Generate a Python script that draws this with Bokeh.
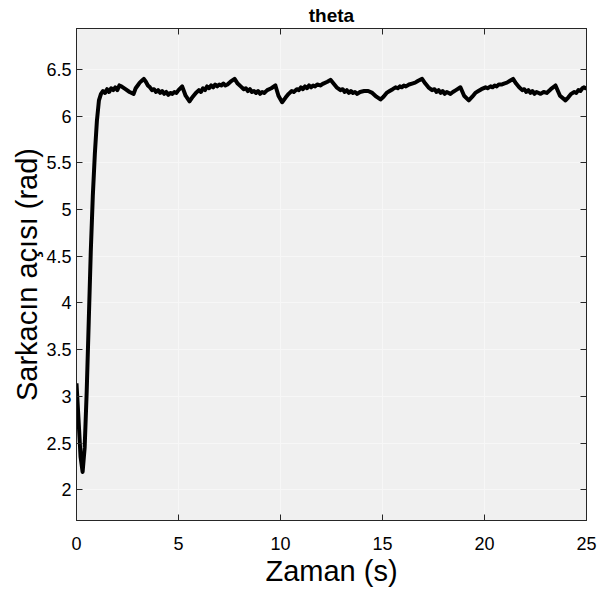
from bokeh.plotting import figure
from bokeh.models import Range1d, LinearAxis, FixedTicker, ColumnDataSource
from bokeh.embed import file_html
from bokeh.resources import INLINE

# time (s)
t = [0.0, 0.1, 0.2, 0.3, 0.4, 0.5, 0.6, 0.7, 0.8, 0.9, 1.0,
     1.1, 1.2, 1.3, 1.4, 1.5, 1.6, 1.7, 1.8, 1.9, 2.0, 2.1, 2.2, 2.4, 2.6, 2.8, 2.9, 3.0,
     3.1, 3.2, 3.3, 3.4, 3.5, 3.6, 3.7, 3.8, 3.9, 4.0, 4.1, 4.2, 4.3, 4.4, 4.5, 4.6, 4.7,
     4.8, 4.9, 5.0, 5.18, 5.35, 5.54,
     5.7, 5.85, 6.0, 6.1, 6.2, 6.3, 6.4, 6.5, 6.6, 6.7, 6.8, 6.9, 7.0, 7.1, 7.2, 7.3, 7.4,
     7.55, 7.75, 7.9, 8.05, 8.2, 8.3, 8.4, 8.5, 8.6, 8.7, 8.8, 8.9, 9.0, 9.1, 9.2, 9.35,
     9.55, 9.75, 9.9, 10.08,
     10.25, 10.4, 10.55, 10.65, 10.8, 10.9, 11.0, 11.1, 11.2, 11.3, 11.4, 11.5, 11.6, 11.7,
     11.8, 11.95, 12.1, 12.3, 12.45, 12.6, 12.75, 12.94, 13.05, 13.15, 13.25, 13.35, 13.45,
     13.55, 13.65, 13.76, 13.9, 14.1, 14.3, 14.5, 14.7, 14.9,
     15.05, 15.2, 15.35, 15.5, 15.64, 15.75, 15.85, 15.95, 16.05, 16.15, 16.3, 16.45, 16.6,
     16.75, 16.94, 17.1, 17.25, 17.43, 17.55, 17.65, 17.75, 17.85, 17.95, 18.05, 18.15,
     18.33, 18.45, 18.6, 18.82, 19.0, 19.23,
     19.4, 19.55, 19.7, 19.85, 20.05, 20.15, 20.3, 20.4, 20.5, 20.6, 20.7, 20.85, 20.95,
     21.1, 21.25, 21.4, 21.55, 21.7, 21.85, 21.95, 22.05, 22.15, 22.25, 22.35, 22.45, 22.55,
     22.75, 22.9, 23.05, 23.25, 23.48, 23.7, 23.97,
     24.1, 24.25, 24.4, 24.5, 24.6, 24.7, 24.8, 24.87, 24.95, 25.0]

# pendulum angle (rad)
theta = [3.14, 2.75, 2.35, 2.19, 2.45, 3.05, 3.8, 4.55, 5.15, 5.6, 5.95,
         6.17, 6.24, 6.27, 6.25, 6.29, 6.26, 6.30, 6.28, 6.31, 6.28, 6.33, 6.32, 6.29, 6.26, 6.24, 6.30, 6.33,
         6.36, 6.38, 6.40, 6.37, 6.33, 6.31, 6.28, 6.29, 6.26, 6.28, 6.25, 6.27, 6.24, 6.26, 6.23, 6.25, 6.24,
         6.26, 6.25, 6.28, 6.32, 6.22, 6.16,
         6.21, 6.25, 6.28, 6.26, 6.30, 6.28, 6.32, 6.30, 6.33, 6.31, 6.34, 6.32, 6.34, 6.33, 6.35, 6.33, 6.34,
         6.37, 6.40, 6.35, 6.32, 6.29, 6.30, 6.27, 6.29, 6.26, 6.27, 6.25, 6.27, 6.24, 6.26, 6.25, 6.28,
         6.30, 6.33, 6.22, 6.15,
         6.20, 6.24, 6.27, 6.26, 6.29, 6.28, 6.31, 6.29, 6.32, 6.30, 6.33, 6.31, 6.33, 6.32,
         6.34, 6.33, 6.35, 6.37, 6.39, 6.35, 6.31, 6.28, 6.29, 6.26, 6.28, 6.25, 6.27,
         6.25, 6.26, 6.24, 6.26, 6.27, 6.27, 6.25, 6.21, 6.18,
         6.21, 6.25, 6.27, 6.29, 6.31, 6.30, 6.32, 6.31, 6.33, 6.32, 6.34, 6.35, 6.36,
         6.38, 6.40, 6.35, 6.31, 6.28, 6.29, 6.26, 6.28, 6.25, 6.27, 6.24, 6.26,
         6.24, 6.26, 6.28, 6.31, 6.22, 6.17,
         6.21, 6.25, 6.27, 6.29, 6.31, 6.30, 6.32, 6.31, 6.33, 6.32, 6.34, 6.34, 6.35,
         6.36, 6.38, 6.40, 6.35, 6.31, 6.28, 6.29, 6.26, 6.28, 6.25, 6.27, 6.24, 6.26,
         6.24, 6.26, 6.25, 6.29, 6.33, 6.22, 6.17,
         6.20, 6.24, 6.26, 6.25, 6.28, 6.27, 6.30, 6.31, 6.30, 6.32]

x_ticks = [0, 5, 10, 15, 20, 25]
y_ticks = [2, 2.5, 3, 3.5, 4, 4.5, 5, 5.5, 6, 6.5]
title_text = "theta"
x_label = "Zaman (s)"
y_label = "Sarkacın açısı (rad)"

FONT = "Liberation Sans"
FRAME_BG = "#f0f0f0"
AX_COL = "#262626"

p = figure(width=597, height=589, output_backend="svg", toolbar_location=None,
           x_range=Range1d(0, 25), y_range=Range1d(1.67, 6.94),
           min_border_left=76, min_border_right=11, min_border_top=28,
           min_border_bottom=68, background_fill_color=FRAME_BG,
           border_fill_color="white")

src = ColumnDataSource(dict(t=t, theta=theta))
p.line("t", "theta", source=src, line_color="black", line_width=4,
       line_join="round")

for ax in (p.xaxis[0], p.yaxis[0]):
    ax.axis_line_color = AX_COL
    ax.major_tick_line_color = AX_COL
    ax.major_tick_in = 6
    ax.major_tick_out = 0
    ax.minor_tick_line_color = None
    ax.major_label_text_font = FONT
    ax.major_label_text_font_size = "18px"
    ax.major_label_text_color = "black"
    ax.axis_label_text_font = FONT
    ax.axis_label_text_font_size = "29px"
    ax.axis_label_text_font_style = "normal"
    ax.axis_label_text_color = "black"

p.xaxis.ticker = FixedTicker(ticks=x_ticks)
p.yaxis.ticker = FixedTicker(ticks=y_ticks)
p.xaxis.axis_label = x_label
p.yaxis.axis_label = y_label
p.xaxis.major_label_standoff = 16
p.xaxis.axis_label_standoff = 2
p.yaxis.major_label_standoff = 5
p.yaxis.axis_label_standoff = 0

# top axis: inward ticks and the chart title as its label
top = LinearAxis(ticker=FixedTicker(ticks=x_ticks), axis_label=title_text)
right = LinearAxis(ticker=FixedTicker(ticks=y_ticks))
for ax in (top, right):
    ax.axis_line_color = AX_COL
    ax.major_tick_line_color = AX_COL
    ax.major_tick_in = 6
    ax.major_tick_out = 0
    ax.minor_tick_line_color = None
    ax.major_label_text_font_size = "1px"
    ax.major_label_text_color = None
    ax.major_label_text_alpha = 0
    ax.major_label_standoff = 0
top.axis_label_text_font = FONT
top.axis_label_text_font_size = "19px"
top.axis_label_text_font_style = "bold"
top.axis_label_text_color = "black"
top.axis_label_standoff = 3
p.add_layout(top, "above")
p.add_layout(right, "right")

p.grid.grid_line_color = "#f7f7f7"
p.grid.grid_line_width = 1
p.xgrid.ticker = FixedTicker(ticks=x_ticks)
p.ygrid.ticker = FixedTicker(ticks=y_ticks)
p.outline_line_color = AX_COL

open("out.html", "w").write(file_html(p, INLINE))
